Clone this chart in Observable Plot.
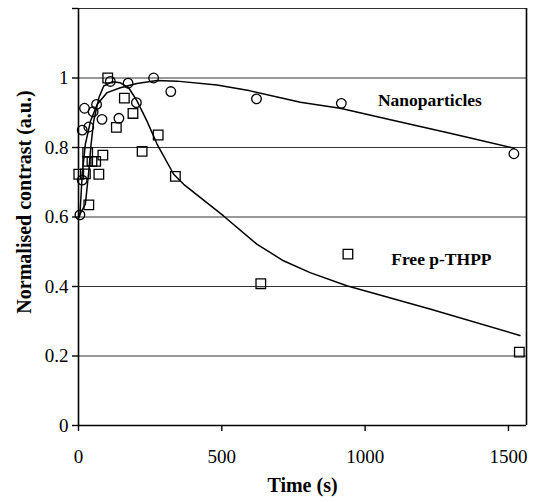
<!DOCTYPE html>
<html><head><meta charset="utf-8">
<script src="https://cdn.jsdelivr.net/npm/d3@7"></script>
<script src="https://cdn.jsdelivr.net/npm/@observablehq/plot@0.6"></script>
<style>body{margin:0;background:#fff} svg text{font-family:"Liberation Serif","Times New Roman",serif !important}</style>
</head><body><div id="chart"></div>
<script>
const nanoTime = [5, 13, 13, 21, 36, 51, 63, 82, 111, 141, 173, 202, 262, 322, 621, 917, 1519];
const nanoContrast = [0.606, 0.706, 0.85, 0.913, 0.859, 0.903, 0.924, 0.881, 0.99, 0.884, 0.985, 0.929, 1.0, 0.961, 0.94, 0.927, 0.782];
const freeTime = [1, 24, 36, 32, 47, 60, 32, 71, 85, 102, 132, 160, 190, 222, 278, 338, 636, 940, 1538];
const freeContrast = [0.723, 0.724, 0.635, 0.76, 0.76, 0.76, 0.786, 0.723, 0.778, 1.0, 0.858, 0.942, 0.898, 0.789, 0.836, 0.717, 0.408, 0.493, 0.211];
const nanoFitTime = [3, 5, 13, 24, 42, 65, 100, 146, 204, 274, 344, 483, 599, 774, 913, 1100, 1300, 1520];
const nanoFitContrast = [0.6, 0.608, 0.723, 0.81, 0.876, 0.924, 0.958, 0.972, 0.984, 0.993, 0.991, 0.98, 0.963, 0.93, 0.913, 0.878, 0.84, 0.798];
const freeFitTime = [3, 24, 36, 44, 53, 71, 88, 117, 146, 175, 204, 239, 274, 332, 367, 506, 622, 715, 808, 936, 1226, 1540];
const freeFitContrast = [0.605, 0.637, 0.733, 0.81, 0.876, 0.943, 0.977, 0.989, 0.986, 0.972, 0.934, 0.876, 0.81, 0.723, 0.694, 0.603, 0.522, 0.474, 0.44, 0.402, 0.335, 0.259];
const xTicks = [0, 500, 1000, 1500];
const yTicks = [0, 0.2, 0.4, 0.6, 0.8, 1, 1.2];
const yTickLabels = ["0", "0.2", "0.4", "0.6", "0.8", "1", ""];
const seriesNames = ["Nanoparticles", "Free p-THPP"];
const xTitle = "Time (s)";
const yTitle = "Normalised contrast (a.u.)";

const nano = nanoTime.map((t, i) => ({t, c: nanoContrast[i]}));
const free = freeTime.map((t, i) => ({t, c: freeContrast[i]}));
const nanoFit = nanoFitTime.map((t, i) => ({t, c: nanoFitContrast[i]}));
const freeFit = freeFitTime.map((t, i) => ({t, c: freeFitContrast[i]}));
const font = "Liberation Serif";

const chart = Plot.plot({
  width: 536, height: 502,
  marginLeft: 78, marginRight: 10, marginTop: 8, marginBottom: 77,
  x: {domain: [0, 1563]},
  y: {domain: [0, 1.2]},
  style: {fontFamily: font, fontSize: "19px", color: "#000", background: "#fff"},
  marks: [
    Plot.ruleY(yTicks.slice(1), {stroke: "#333", strokeWidth: 1}),
    Plot.ruleY([0], {stroke: "#000", strokeWidth: 1.6}),
    Plot.ruleX([0], {stroke: "#000", strokeWidth: 1.6}),
    Plot.ruleX([1563], {stroke: "#000", strokeWidth: 1.6}),
    Plot.axisX(xTicks, {tickSize: 6, tickPadding: 18, label: null, fontSize: 19, stroke: "#000", strokeWidth: 1.4,
      tickFormat: d => String(d)}),
    Plot.axisY(yTicks, {tickSize: 6, tickPadding: 4, label: null, fontSize: 19, stroke: "#000", strokeWidth: 1.4,
      tickFormat: d => yTickLabels[yTicks.indexOf(d)]}),
    Plot.line(nanoFit, {x: "t", y: "c", stroke: "#000", strokeWidth: 1.5}),
    Plot.line(freeFit, {x: "t", y: "c", stroke: "#000", strokeWidth: 1.5}),
    Plot.dot(nano, {x: "t", y: "c", symbol: "circle", r: 4.8, stroke: "#000", strokeWidth: 1.3, fill: "none"}),
    Plot.dot(free, {x: "t", y: "c", symbol: "square", r: 5.4, stroke: "#000", strokeWidth: 1.3, fill: "none"}),
    Plot.text([seriesNames[0]], {x: 1226, y: 0.935, fontWeight: "bold", fontSize: 17.5}),
    Plot.text([seriesNames[1]], {x: 1266, y: 0.478, fontWeight: "bold", fontSize: 17.5}),
    Plot.text([xTitle], {frameAnchor: "bottom", textAnchor: "middle", dy: 66, fontWeight: "bold", fontSize: 20}),
    Plot.text([yTitle], {frameAnchor: "left", textAnchor: "middle", rotate: -90, dx: -54, dy: -15, fontWeight: "bold", fontSize: 20})
  ]
});
document.getElementById("chart").appendChild(chart);
</script>
</body></html>
